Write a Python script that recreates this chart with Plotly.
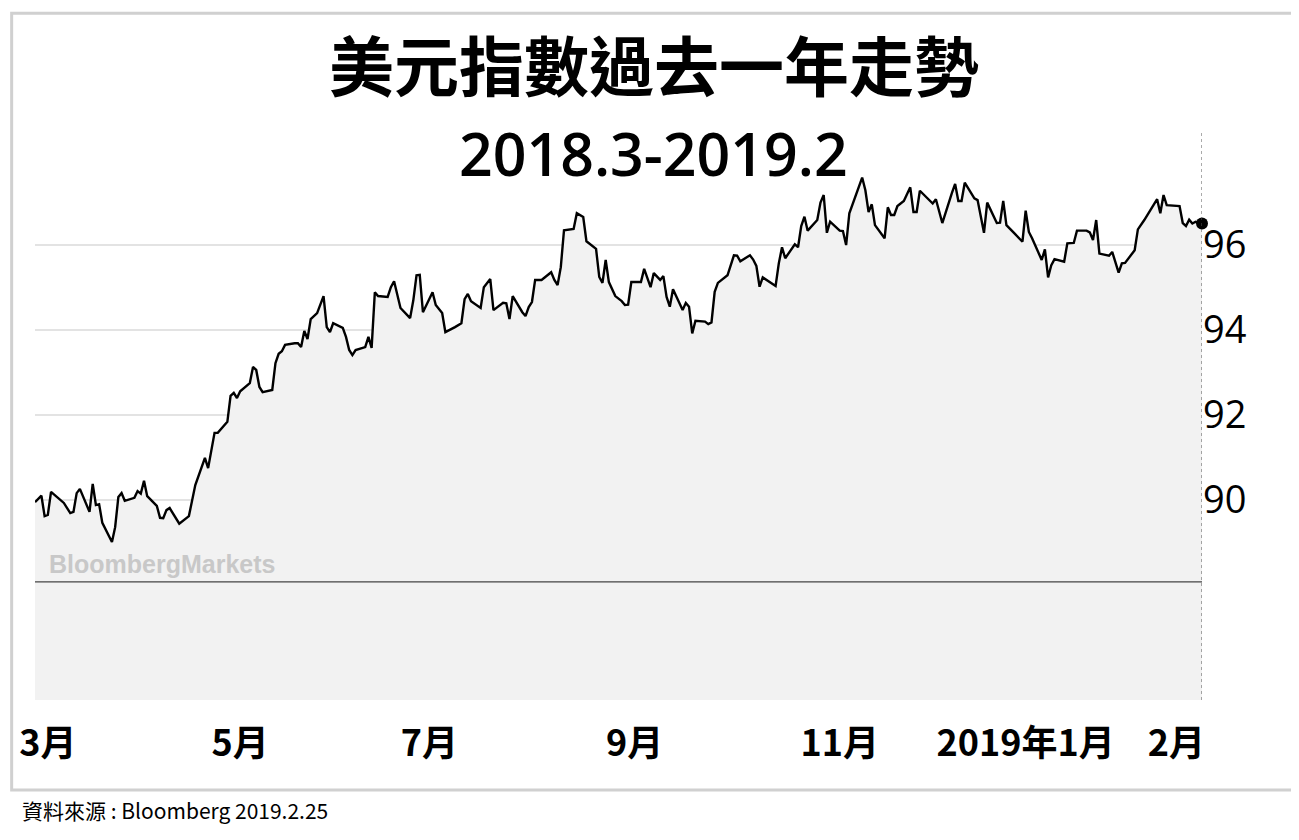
import pandas as pd
import plotly.graph_objects as go

# day offsets from 2018-03-01 and DXY values (10 per row)
day_offsets = [
    -3, -1, 0, 1, 2, 6, 8, 9, 10, 11,
    14, 15, 16, 17, 18, 21, 22, 23, 24, 25,
    28, 29, 30, 31, 32, 35, 36, 37, 38, 39,
    42, 45, 47, 50, 51, 53, 54, 57, 58, 59,
    60, 61, 64, 65, 66, 67, 68, 71, 72, 73,
    74, 75, 78, 79, 80, 81, 82, 83, 85, 87,
    88, 89, 90, 93, 94, 95, 96, 97, 100, 101,
    102, 103, 104, 107, 108, 109, 111, 114, 115, 116,
    117, 118, 121, 122, 124, 125, 128, 130, 131, 132,
    133, 136, 137, 139, 140, 143, 144, 145, 146, 149,
    150, 151, 152, 153, 155, 158, 159, 160, 161, 162,
    165, 166, 168, 169, 172, 173, 174, 175, 176, 178,
    180, 181, 182, 183, 186, 187, 189, 190, 192, 193,
    194, 195, 196, 199, 200, 201, 202, 203, 206, 207,
    208, 209, 210, 213, 215, 216, 217, 220, 221, 222,
    223, 224, 228, 229, 230, 231, 234, 235, 236, 237,
    238, 241, 242, 243, 244, 245, 248, 249, 250, 251,
    255, 256, 257, 258, 259, 262, 263, 264, 265, 266,
    268, 270, 271, 272, 273, 277, 278, 280, 283, 284,
    285, 286, 287, 290, 291, 293, 294, 297, 298, 299,
    300, 305, 306, 307, 308, 311, 312, 313, 314, 315,
    318, 319, 321, 322, 325, 326, 327, 328, 329, 332,
    333, 335, 336, 337, 340, 341, 343, 347, 348, 349,
    350, 354, 355, 356, 357, 358, 359, 361,
]
dxy_values = [
    89.95, 90.10, 89.62, 89.65, 90.19, 89.93, 89.69, 89.72, 90.16, 90.26,
    89.72, 90.38, 89.88, 89.90, 89.46, 89.01, 89.36, 90.07, 90.16, 89.98,
    90.05, 90.21, 90.15, 90.45, 90.09, 89.86, 89.58, 89.57, 89.76, 89.81,
    89.44, 89.62, 90.35, 90.99, 90.75, 91.58, 91.58, 91.84, 92.45, 92.52,
    92.40, 92.56, 92.75, 93.13, 93.06, 92.66, 92.54, 92.59, 93.22, 93.44,
    93.50, 93.65, 93.69, 93.69, 93.60, 93.98, 93.79, 94.26, 94.40, 94.80,
    94.07, 93.95, 94.16, 94.05, 93.84, 93.53, 93.41, 93.53, 93.60, 93.84,
    93.58, 94.89, 94.80, 94.78, 95.01, 95.15, 94.52, 94.28, 94.70, 95.29,
    95.30, 94.42, 94.89, 94.59, 94.40, 93.95, 94.07, 94.16, 94.73, 94.85,
    94.68, 94.52, 95.01, 95.20, 94.47, 94.64, 94.63, 94.26, 94.80, 94.42,
    94.33, 94.54, 94.66, 95.18, 95.18, 95.36, 95.18, 95.06, 95.48, 96.35,
    96.38, 96.75, 96.66, 96.09, 95.91, 95.25, 95.11, 95.65, 95.13, 94.80,
    94.68, 94.59, 94.60, 95.13, 95.13, 95.44, 95.01, 95.34, 95.18, 95.27,
    94.78, 94.55, 94.96, 94.47, 94.64, 94.55, 93.92, 94.22, 94.20, 94.14,
    94.18, 94.90, 95.11, 95.29, 95.76, 95.75, 95.62, 95.76, 95.66, 95.51,
    95.02, 95.24, 95.04, 95.57, 95.95, 95.69, 96.02, 95.95, 96.45, 96.67,
    96.34, 96.59, 97.00, 97.18, 96.29, 96.55, 96.34, 96.33, 96.00, 96.75,
    97.59, 97.29, 96.78, 96.96, 96.47, 96.16, 96.89, 96.71, 96.71, 96.92,
    97.04, 97.36, 96.78, 96.78, 97.28, 96.98, 97.08, 96.52, 97.23, 97.44,
    97.04, 97.04, 97.47, 97.10, 97.06, 96.29, 97.00, 96.52, 96.53, 97.04,
    96.47, 96.08, 96.81, 96.31, 96.16, 95.65, 95.90, 95.24, 95.53, 95.67,
    95.61, 96.04, 96.05, 96.34, 96.34, 96.30, 96.12, 96.59, 95.80, 95.75,
    95.84, 95.35, 95.57, 95.58, 95.88, 96.37, 96.59, 97.08, 96.75, 97.18,
    96.94, 96.92, 96.52, 96.45, 96.60, 96.51, 96.55, 96.51,
]

# label positions as placed in the picture (the last one is nudged right of Feb 1)
tick_dates = ["2018-03-02", "2018-05-01", "2018-06-29", "2018-09-01", "2018-11-04", "2019-01-01", "2019-02-17"]
tick_labels = ["3月", "5月", "7月", "9月", "11月", "2019年1月", "2月"]
y_ticks = [90, 92, 94, 96]

base = pd.Timestamp("2018-03-01")
dates = [base + pd.Timedelta(days=d) for d in day_offsets]
last_date = dates[-1]

font = "Noto Sans CJK TC, Noto Sans, sans-serif"

fig = go.Figure()

fig.add_trace(go.Scatter(
    x=dates, y=dxy_values, mode="lines",
    line=dict(color="black", width=2.4),
    fill="tozeroy", fillcolor="#f2f2f2",
    showlegend=False,
))

fig.add_trace(go.Scatter(
    x=[dates[-1]], y=[dxy_values[-1]], mode="markers", cliponaxis=False,
    marker=dict(color="black", size=12), showlegend=False,
))

# baseline and end-date marker line
fig.add_shape(type="line", xref="paper", x0=0, x1=1, y0=88.07, y1=88.07,
              line=dict(color="#444", width=1.2))
fig.add_shape(type="line", xref="x", yref="paper", x0=last_date, x1=last_date, y0=0, y1=1,
              line=dict(color="#555", width=1, dash="dot"))
# outer frame
fig.add_shape(type="rect", xref="paper", yref="paper", x0=-0.02, x1=1.08, y0=-0.158, y1=1.205,
              line=dict(color="#d0d0d0", width=3))

fig.add_annotation(text="<b>BloombergMarkets</b>", xref="paper", yref="y", x=0.01, y=88.5,
                   xanchor="left", yanchor="middle", showarrow=False,
                   font=dict(family="Liberation Sans, Arial", size=25, color="#c8c8c8"))

fig.add_annotation(text="<b>美元指數過去一年走勢</b>", xref="paper", yref="paper", x=0.53, y=1.117,
                   xanchor="center", yanchor="middle", showarrow=False,
                   font=dict(family=font, size=65, color="black"))
fig.add_annotation(text="2018.3-2019.2", xref="paper", yref="paper", x=0.53, y=0.96,
                   xanchor="center", yanchor="middle", showarrow=False,
                   font=dict(family="Open Sans, sans-serif", size=59, color="black", weight=600))
fig.add_annotation(text="資料來源 : Bloomberg 2019.2.25", xref="paper", yref="paper", x=-0.013, y=-0.193,
                   xanchor="left", yanchor="middle", showarrow=False,
                   font=dict(family=font, size=21, color="black"))

fig.update_layout(
    width=1299, height=840,
    margin=dict(l=27, r=105, t=122, b=148),
    paper_bgcolor="white", plot_bgcolor="white",
    xaxis=dict(
        range=[pd.Timestamp("2018-02-26"), last_date], automargin=False,
        tickvals=tick_dates, ticktext=tick_labels, tickangle=0,
        showgrid=False, zeroline=False, showline=False,
        ticks="outside", ticklen=12, tickcolor="rgba(0,0,0,0)",
        tickfont=dict(family=font, size=36, color="black", weight=600),
    ),
    yaxis=dict(
        side="right", range=[85.29, 98.71], automargin=False,
        tickvals=y_ticks, showgrid=True, gridcolor="#e3e3e3", gridwidth=1.5,
        zeroline=False, showline=False, ticks="",
        tickfont=dict(family="Open Sans, sans-serif", size=38, color="black"),
    ),
)

fig.write_html("out.html")
